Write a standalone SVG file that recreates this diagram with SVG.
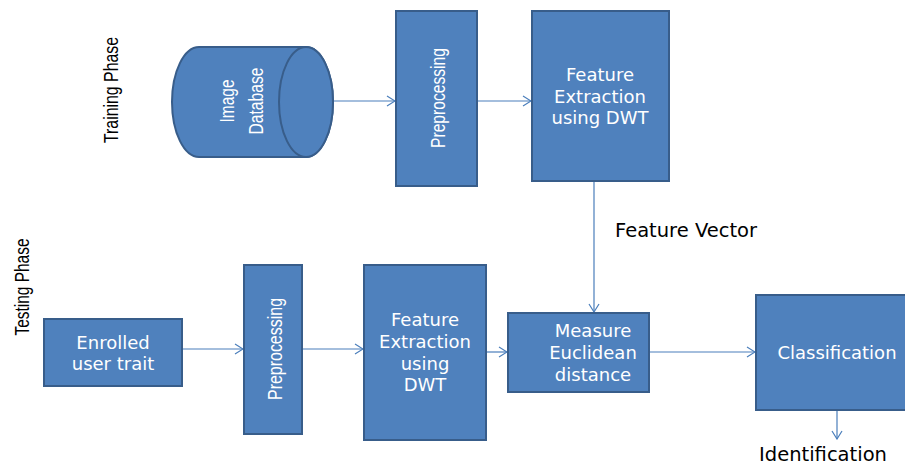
<svg xmlns="http://www.w3.org/2000/svg" width="905" height="466" viewBox="0 0 905 466">
<defs>
<style>
.box{fill:#4F81BD;stroke:#385D8A;stroke-width:2}
.wt{fill:#FFFFFF;font-family:"DejaVu Sans",sans-serif;font-size:18px;text-anchor:middle}
.rt{fill:#FFFFFF;font-family:"Liberation Sans",sans-serif;font-size:21px;text-anchor:middle}
.bl{fill:#000000;font-family:"Liberation Sans",sans-serif;font-size:21px;text-anchor:middle}
.lb{fill:#000000;font-family:"DejaVu Sans",sans-serif;font-size:19.5px}
.conn{stroke:#4A7EBB;stroke-width:1.2;fill:none}
</style>
<marker id="arr" markerWidth="10" markerHeight="12" refX="9" refY="6" orient="auto" markerUnits="userSpaceOnUse">
<path d="M1,1 L9,6 L1,11" fill="none" stroke="#4A7EBB" stroke-width="1.2"/>
</marker>
</defs>
<rect width="905" height="466" fill="#FFFFFF"/>

<text class="bl" transform="translate(118,90) rotate(-90)" textLength="106" lengthAdjust="spacingAndGlyphs">Training Phase</text>
<text class="bl" transform="translate(29,287) rotate(-90)" textLength="97" lengthAdjust="spacingAndGlyphs">Testing Phase</text>

<g id="connectors">
<line class="conn" x1="333" y1="101" x2="395" y2="101" marker-end="url(#arr)"/>
<line class="conn" x1="477" y1="101" x2="531" y2="101" marker-end="url(#arr)"/>
<line class="conn" x1="594" y1="181" x2="594" y2="312" marker-end="url(#arr)"/>
<line class="conn" x1="182" y1="349" x2="243" y2="349" marker-end="url(#arr)"/>
<line class="conn" x1="302" y1="349" x2="363" y2="349" marker-end="url(#arr)"/>
<line class="conn" x1="486" y1="352" x2="507" y2="352" marker-end="url(#arr)"/>
<line class="conn" x1="650" y1="352" x2="755" y2="352" marker-end="url(#arr)"/>
<line class="conn" x1="837" y1="410" x2="837" y2="439" marker-end="url(#arr)"/>
</g>

<g id="image-database">
<path class="box" d="M199,47 L306,47 A27,55 0 0 1 306,157 L199,157 A27,55 0 0 1 199,47 Z"/>
<ellipse class="box" cx="306" cy="102" rx="27" ry="55"/>
<text class="rt" transform="translate(234,101) rotate(-90)" textLength="43" lengthAdjust="spacingAndGlyphs">Image</text>
<text class="rt" transform="translate(263,101) rotate(-90)" textLength="67" lengthAdjust="spacingAndGlyphs">Database</text>
</g>

<g id="preprocessing-train">
<rect class="box" x="396" y="11" width="81" height="175"/>
<text class="rt" transform="translate(445,98) rotate(-90)" textLength="100" lengthAdjust="spacingAndGlyphs">Preprocessing</text>
</g>

<g id="feature-train">
<rect class="box" x="532" y="11" width="137" height="170"/>
<text class="wt" x="600" y="81">Feature</text>
<text class="wt" x="600" y="103">Extraction</text>
<text class="wt" x="600" y="124">using DWT</text>
</g>

<text class="lb" x="615" y="237">Feature Vector</text>

<g id="enrolled">
<rect class="box" x="44" y="319" width="138" height="67"/>
<text class="wt" x="113" y="349">Enrolled</text>
<text class="wt" x="113" y="370">user trait</text>
</g>

<g id="preprocessing-test">
<rect class="box" x="244" y="265" width="58" height="169"/>
<text class="rt" transform="translate(282,349) rotate(-90)" textLength="102" lengthAdjust="spacingAndGlyphs">Preprocessing</text>
</g>

<g id="feature-test">
<rect class="box" x="364" y="265" width="122" height="175"/>
<text class="wt" x="425" y="326">Feature</text>
<text class="wt" x="425" y="348">Extraction</text>
<text class="wt" x="425" y="370">using</text>
<text class="wt" x="425" y="391">DWT</text>
</g>

<g id="measure">
<rect class="box" x="508" y="313" width="141" height="79"/>
<text class="wt" x="593" y="337">Measure</text>
<text class="wt" x="593" y="359">Euclidean</text>
<text class="wt" x="593" y="381">distance</text>
</g>

<g id="classification">
<rect class="box" x="756" y="295" width="160" height="115"/>
<text class="wt" x="837" y="359">Classification</text>
</g>

<text class="lb" x="823" y="461" text-anchor="middle">Identification</text>
</svg>
